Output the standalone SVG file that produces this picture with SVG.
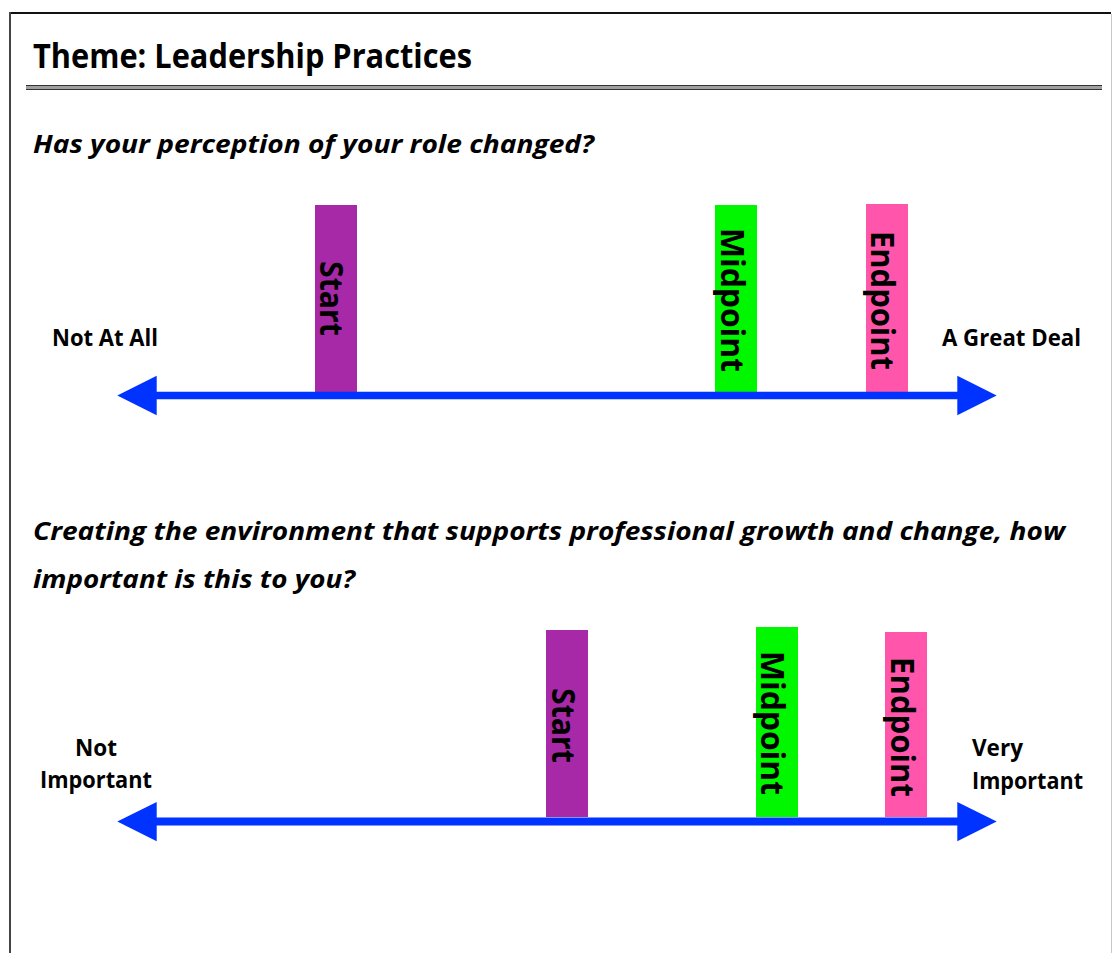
<svg xmlns="http://www.w3.org/2000/svg" width="1116" height="953" viewBox="0 0 1116 953">
  <style>
    text { font-family: "Open Sans", "Noto Sans", "Liberation Sans", sans-serif; font-weight: bold; fill: #000; }
    .title { font-size: 34px; }
    .q { font-size: 24.5px; font-style: italic; }
    .lbl { font-size: 22.5px; }
    .bar-lbl { font-size: 33px; }
    .start { fill: #A829A8; }
    .mid { fill: #00F700; }
    .end { fill: #FF55AA; }
    .axis { fill: #0033FF; }
  </style>
  <rect x="0" y="0" width="1116" height="953" fill="#fff"/>

  <g id="frame">
    <line x1="9" y1="13" x2="1111" y2="13" stroke="#111" stroke-width="2"/>
    <line x1="10" y1="12" x2="10" y2="953" stroke="#444" stroke-width="2"/>
    <line x1="1111.5" y1="14" x2="1111.5" y2="953" stroke="#c8c8c8" stroke-width="1"/>
  </g>

  <g id="title">
    <text class="title" x="33" y="68" textLength="439" lengthAdjust="spacingAndGlyphs">Theme: Leadership Practices</text>
    <rect x="26" y="85.5" width="1076" height="4" fill="#a0a0a0"/>
    <line x1="26" y1="85.5" x2="1102" y2="85.5" stroke="#333" stroke-width="1"/>
    <line x1="26" y1="89.5" x2="1102" y2="89.5" stroke="#333" stroke-width="1"/>
  </g>

  <g id="question1">
    <text class="q" x="33" y="153" textLength="561" lengthAdjust="spacingAndGlyphs">Has your perception of your role changed?</text>
  </g>

  <g id="chart1-bars">
    <g id="c1-start">
      <rect class="start" x="315" y="205" width="42" height="189"/>
      <text class="bar-lbl" transform="translate(320,261) rotate(90)" textLength="75" lengthAdjust="spacingAndGlyphs">Start</text>
    </g>
    <g id="c1-midpoint">
      <rect class="mid" x="715" y="205" width="42" height="189"/>
      <text class="bar-lbl" transform="translate(721,228) rotate(90)" textLength="144" lengthAdjust="spacingAndGlyphs">Midpoint</text>
    </g>
    <g id="c1-endpoint">
      <rect class="end" x="866" y="204" width="42" height="189"/>
      <text class="bar-lbl" transform="translate(871,231) rotate(90)" textLength="139" lengthAdjust="spacingAndGlyphs">Endpoint</text>
    </g>
  </g>

  <g id="c1-left-label">
    <text class="lbl" x="52" y="346" textLength="106" lengthAdjust="spacingAndGlyphs">Not At All</text>
  </g>
  <g id="c1-right-label">
    <text class="lbl" x="942" y="346" textLength="139" lengthAdjust="spacingAndGlyphs">A Great Deal</text>
  </g>

  <g id="question2">
    <text class="q" x="33" y="540" textLength="1032" lengthAdjust="spacingAndGlyphs">Creating the environment that supports professional growth and change, how</text>
    <text class="q" x="33" y="588" textLength="322" lengthAdjust="spacingAndGlyphs">important is this to you?</text>
  </g>

  <g id="chart2-bars">
    <g id="c2-start">
      <rect class="start" x="546" y="630" width="42" height="187"/>
      <text class="bar-lbl" transform="translate(552,688) rotate(90)" textLength="75" lengthAdjust="spacingAndGlyphs">Start</text>
    </g>
    <g id="c2-midpoint">
      <rect class="mid" x="756" y="627" width="42" height="190"/>
      <text class="bar-lbl" transform="translate(761,651) rotate(90)" textLength="144" lengthAdjust="spacingAndGlyphs">Midpoint</text>
    </g>
    <g id="c2-endpoint">
      <rect class="end" x="885" y="632" width="42" height="185"/>
      <text class="bar-lbl" transform="translate(891,657) rotate(90)" textLength="140" lengthAdjust="spacingAndGlyphs">Endpoint</text>
    </g>
  </g>

  <g id="c2-left-label">
    <text class="lbl" x="96" y="756" text-anchor="middle">Not</text>
    <text class="lbl" x="96" y="788" text-anchor="middle" textLength="112" lengthAdjust="spacingAndGlyphs">Important</text>
  </g>
  <g id="c2-right-label">
    <text class="lbl" x="972" y="756">Very</text>
    <text class="lbl" x="972" y="789" textLength="111" lengthAdjust="spacingAndGlyphs">Important</text>
  </g>

  <g id="connectors">
    <path class="axis" d="M117.3,395.5 L156.7,375.7 L156.7,391.8 L957.3,391.8 L957.3,375.7 L996.7,395.5 L957.3,415.3 L957.3,399.2 L156.7,399.2 L156.7,415.3 Z"/>
    <path class="axis" d="M117.3,821.5 L156.7,802 L156.7,817.5 L957.3,817.5 L957.3,802 L996.7,821.5 L957.3,841.3 L957.3,825.5 L156.7,825.5 L156.7,841.3 Z"/>
  </g>
</svg>
